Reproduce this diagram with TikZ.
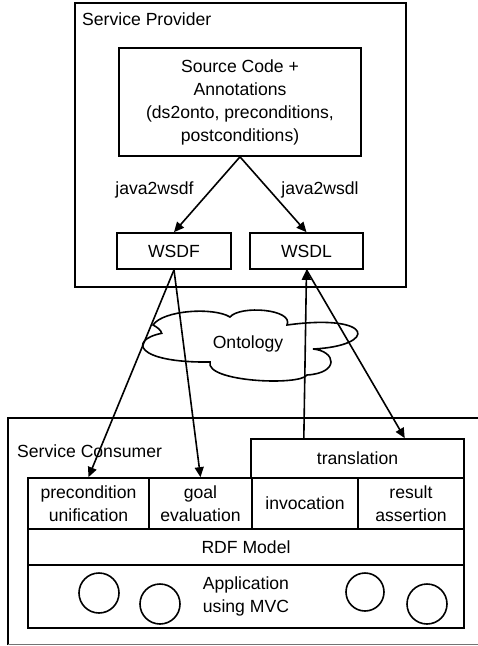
\documentclass[tikz,border=0pt]{standalone}
\usepackage{fontspec}
\setmainfont{Liberation Sans}
\usetikzlibrary{arrows.meta,calc}
\begin{document}
\begin{tikzpicture}[x=1pt,y=-1pt,
  every node/.style={font=\fontsize{17.6}{23}\selectfont},
  box/.style={draw,line width=1.7pt,inner sep=0pt,align=center},
  lbl/.style={inner sep=0pt,anchor=west},
  arr/.style={line width=1.6pt,-{Triangle[length=10pt,width=9pt]}},
  ln/.style={line width=1.7pt},
  ring/.style={draw,circle,line width=1.6pt,inner sep=0pt}]
\useasboundingbox (0,0) rectangle (478,646);
\clip (0,0) rectangle (478,646);
% Service Provider
\node[box,minimum width=331pt,minimum height=284pt] (sp) at (240.5,145) {};
\node[lbl] (splbl) at (82,19) {Service Provider};
\node[box,minimum width=242pt,minimum height=108pt] (src) at (240,102)
  {Source Code +\\Annotations\\(ds2onto, preconditions,\\postconditions)};
\node[box,minimum width=114pt,minimum height=36pt] (wsdf) at (174,251) {WSDF};
\node[box,minimum width=113pt,minimum height=36pt] (wsdl) at (306.5,251) {WSDL};
\node[inner sep=0pt] (l1) at (154.5,190) {java2wsdf};
\node[inner sep=0pt] (l2) at (320,190) {java2wsdl};
\draw[arr] (src.south) -- (wsdf.north);
\draw[arr] (src.south) -- (wsdl.north);
% Ontology cloud
\draw[ln,line width=1.6pt] (161.7,333.3)
  .. controls (128,340) and (136,363) .. (210,362)
  .. controls (205,382) and (300,386) .. (307,375)
  .. controls (340,373) and (336,351) .. (313,349)
  .. controls (378,346) and (375,313) .. (287,325)
  .. controls (294,309) and (240,305) .. (230,317)
  .. controls (214,307) and (163,310) .. (153,325)
  .. controls (157,327) and (161,330) .. cycle;
\node[inner sep=0pt] (onto) at (248,344) {Ontology};
% Service Consumer (open at the right)
\draw[ln] (479,418) -- (8,418) -- (8,644.5);
\draw[line width=1pt,black!55] (8,644.5) -- (479,644.5);
\node[lbl] (sclbl) at (17,451) {Service Consumer};
\node[box,minimum width=213pt,minimum height=39pt] (trans) at (357.5,458.5) {translation};
\node[box,minimum width=121pt,minimum height=51pt] (prec) at (88.5,503.5) {precondition\\unification};
\node[box,minimum width=103pt,minimum height=51pt] (goal) at (200.5,503.5) {goal\\evaluation};
\node[box,minimum width=106pt,minimum height=51pt] (inv) at (305,503.5) {invocation};
\node[box,minimum width=106pt,minimum height=51pt] (res) at (411,503.5) {result\\assertion};
\node[box,minimum width=436pt,minimum height=36pt] (rdf) at (246,547) {RDF Model};
\node[box,minimum width=436pt,minimum height=63pt] (app) at (246,596.5) {Application\\using MVC};
\node[ring,minimum size=40pt] (c1) at (99,593) {};
\node[ring,minimum size=40pt] (c2) at (160,604) {};
\node[ring,minimum size=38pt] (c3) at (365,592) {};
\node[ring,minimum size=40pt] (c4) at (427,604) {};
% connectors
\coordinate (tA) at ($(trans.north west)!0.25!(trans.north east)$);
\coordinate (tB) at ($(trans.north west)!0.72!(trans.north east)$);
\draw[arr] (wsdf.south) -- (prec.north);
\draw[arr] (wsdf.south) -- (goal.north);
\draw[arr] (tA) -- (wsdl.south);
\draw[arr] (wsdl.south) -- (tB);
\end{tikzpicture}
\end{document}
